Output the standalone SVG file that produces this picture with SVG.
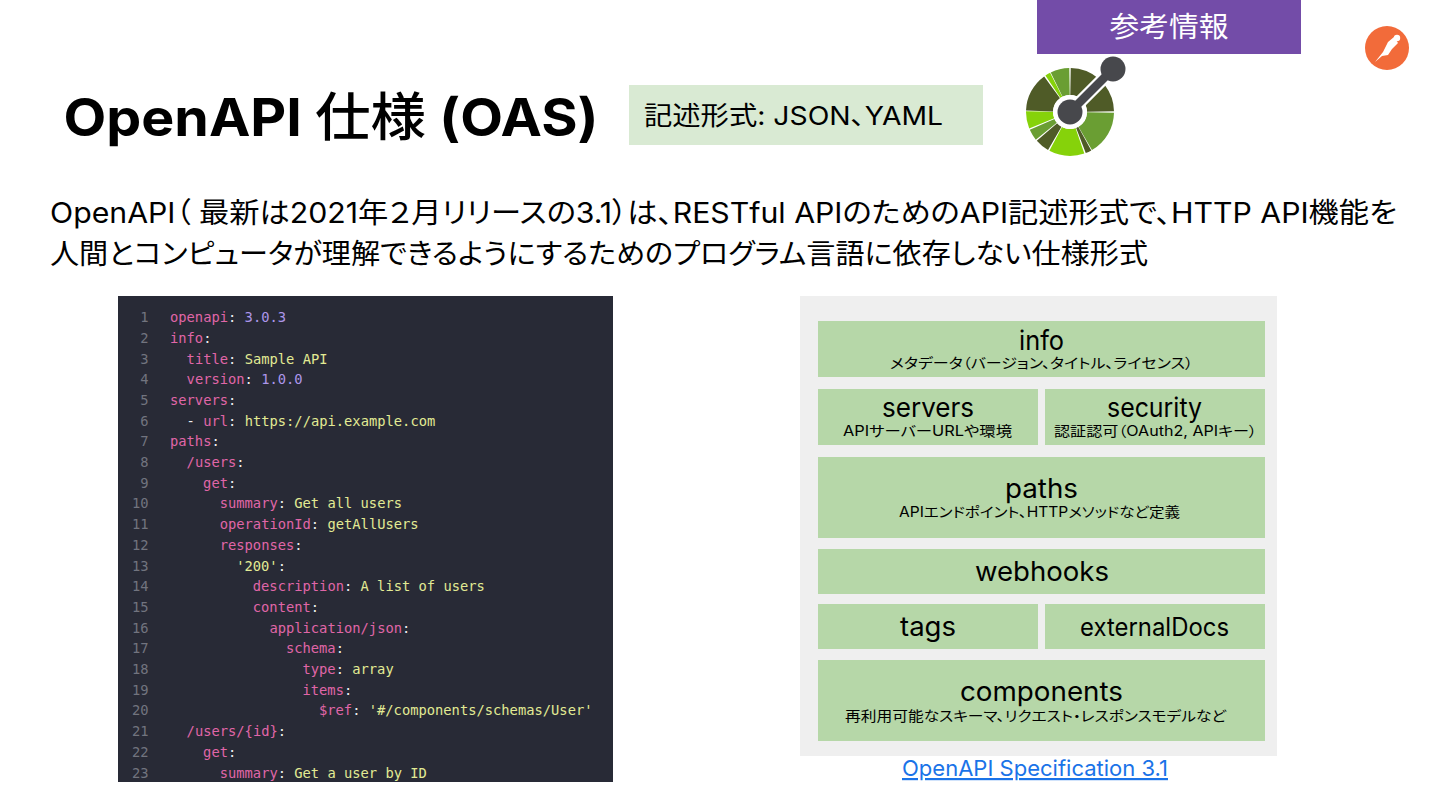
<svg xmlns="http://www.w3.org/2000/svg" width="1440" height="810" viewBox="0 0 1440 810">
<style>
text{font-family:"Inter","Noto Sans CJK JP","Liberation Sans",sans-serif;fill:#000;font-feature-settings:"palt"}
.m{text-anchor:middle}
.box{fill:#b6d7a8}
.h{font-size:27px}
.sub{font-size:14px}
.body{font-size:28.5px}
.code text{font-family:"DejaVu Sans Mono","Liberation Mono",monospace;font-size:13.78px;fill:#eeeef0;font-feature-settings:normal}
.code .ln{fill:#72747f;text-anchor:end}
.k{fill:#e066a8}.s{fill:#e2ea94}.n{fill:#ad96ea}
.seg{fill:none;stroke-width:27}
.dk{stroke:#4f5b27}.md{stroke:#6a9e33}.br{stroke:#86d20a}
</style>
<rect width="1440" height="810" fill="#fff"/>

<g id="badge">
<rect x="1037" y="0" width="264" height="54" fill="#734ca8"/>
<text x="1169" y="37" class="m" font-size="28" style="fill:#fff;font-feature-settings:normal" textLength="119" lengthAdjust="spacingAndGlyphs">参考情報</text>
</g>

<g id="postman-icon">
<circle cx="1387" cy="48" r="22" fill="#f26b3a"/>
<circle cx="1397" cy="38" r="3.2" fill="#fff"/>
<path d="M1375 62 L1383 52 L1388 42 L1394 37 L1398 43 L1392 49 L1388 55 L1382 56 Z" fill="#fff"/>
</g>

<g id="title"><text x="63.5" y="136" font-size="52" font-weight="700" textLength="535" lengthAdjust="spacingAndGlyphs">OpenAPI <tspan font-weight="500">仕様</tspan> (OAS)</text></g>

<g id="format">
<rect x="629" y="85" width="354" height="60" fill="#d9ead3"/>
<text x="644" y="125" font-size="26" textLength="299" lengthAdjust="spacingAndGlyphs">記述形式: JSON、YAML</text>
</g>

<g id="openapi-logo">
<g transform="rotate(-90 1070 112)">
<circle class="seg dk" cx="1070" cy="112" r="30.5" pathLength="360" stroke-dasharray="40 320" stroke-dashoffset="-1"/>
<circle class="seg dk" cx="1070" cy="112" r="30.5" pathLength="360" stroke-dasharray="36 324" stroke-dashoffset="-53"/>
<circle class="seg md" cx="1070" cy="112" r="30.5" pathLength="360" stroke-dasharray="59 301" stroke-dashoffset="-91"/>
<circle class="seg dk" cx="1070" cy="112" r="30.5" pathLength="360" stroke-dasharray="8 352" stroke-dashoffset="-151"/>
<circle class="seg br" cx="1070" cy="112" r="30.5" pathLength="360" stroke-dasharray="47 313" stroke-dashoffset="-161"/>
<circle class="seg dk" cx="1070" cy="112" r="30.5" pathLength="360" stroke-dasharray="19 341" stroke-dashoffset="-210"/>
<circle class="seg md" cx="1070" cy="112" r="30.5" pathLength="360" stroke-dasharray="15 345" stroke-dashoffset="-231"/>
<circle class="seg br" cx="1070" cy="112" r="30.5" pathLength="360" stroke-dasharray="23 337" stroke-dashoffset="-248"/>
<circle class="seg dk" cx="1070" cy="112" r="30.5" pathLength="360" stroke-dasharray="52 308" stroke-dashoffset="-272"/>
<circle class="seg br" cx="1070" cy="112" r="30.5" pathLength="360" stroke-dasharray="7 353" stroke-dashoffset="-326"/>
<circle class="seg md" cx="1070" cy="112" r="30.5" pathLength="360" stroke-dasharray="25 335" stroke-dashoffset="-334"/>
</g>
<line x1="1070" y1="112" x2="1113" y2="69" stroke="#fff" stroke-width="13"/>
<circle cx="1070" cy="112" r="17" fill="#fff"/>
<line x1="1070" y1="112" x2="1113" y2="69" stroke="#47484c" stroke-width="8.5"/>
<circle cx="1070" cy="112" r="12.5" fill="#47484c"/>
<circle cx="1113" cy="69" r="12.5" fill="#47484c"/>
</g>

<g id="description">
<text class="body" x="50" y="223" textLength="1347" lengthAdjust="spacingAndGlyphs">OpenAPI（ 最新は2021年２月リリースの3.1）は、RESTful APIのためのAPI記述形式で、HTTP API機能を</text>
<text class="body" x="50" y="264" textLength="1098" lengthAdjust="spacingAndGlyphs">人間とコンピュータが理解できるようにするためのプログラム言語に依存しない仕様形式</text>
</g>

<g id="code" class="code">
<rect x="118" y="296" width="495" height="486" fill="#282a36"/>
<text class="ln" x="148.5" y="322">1</text><text x="170" y="322"><tspan class="k">openapi</tspan>: <tspan class="n">3.0.3</tspan></text>
<text class="ln" x="148.5" y="343">2</text><text x="170" y="343"><tspan class="k">info</tspan>:</text>
<text class="ln" x="148.5" y="363.5">3</text><text x="186.6" y="363.5"><tspan class="k">title</tspan>: <tspan class="s">Sample API</tspan></text>
<text class="ln" x="148.5" y="384">4</text><text x="186.6" y="384"><tspan class="k">version</tspan>: <tspan class="n">1.0.0</tspan></text>
<text class="ln" x="148.5" y="405">5</text><text x="170" y="405"><tspan class="k">servers</tspan>:</text>
<text class="ln" x="148.5" y="425.5">6</text><text x="186.6" y="425.5">- <tspan class="k">url</tspan>: <tspan class="s">https://api.example.com</tspan></text>
<text class="ln" x="148.5" y="446">7</text><text x="170" y="446"><tspan class="k">paths</tspan>:</text>
<text class="ln" x="148.5" y="467">8</text><text x="186.6" y="467"><tspan class="k">/users</tspan>:</text>
<text class="ln" x="148.5" y="487.5">9</text><text x="203.1" y="487.5"><tspan class="k">get</tspan>:</text>
<text class="ln" x="148.5" y="508">10</text><text x="219.7" y="508"><tspan class="k">summary</tspan>: <tspan class="s">Get all users</tspan></text>
<text class="ln" x="148.5" y="529">11</text><text x="219.7" y="529"><tspan class="k">operationId</tspan>: <tspan class="s">getAllUsers</tspan></text>
<text class="ln" x="148.5" y="550">12</text><text x="219.7" y="550"><tspan class="k">responses</tspan>:</text>
<text class="ln" x="148.5" y="570.5">13</text><text x="236.2" y="570.5"><tspan class="s">'200'</tspan>:</text>
<text class="ln" x="148.5" y="591">14</text><text x="252.8" y="591"><tspan class="k">description</tspan>: <tspan class="s">A list of users</tspan></text>
<text class="ln" x="148.5" y="612">15</text><text x="252.8" y="612"><tspan class="k">content</tspan>:</text>
<text class="ln" x="148.5" y="632.5">16</text><text x="269.4" y="632.5"><tspan class="k">application/json</tspan>:</text>
<text class="ln" x="148.5" y="653">17</text><text x="285.9" y="653"><tspan class="k">schema</tspan>:</text>
<text class="ln" x="148.5" y="674">18</text><text x="302.5" y="674"><tspan class="k">type</tspan>: <tspan class="s">array</tspan></text>
<text class="ln" x="148.5" y="694.5">19</text><text x="302.5" y="694.5"><tspan class="k">items</tspan>:</text>
<text class="ln" x="148.5" y="715">20</text><text x="319" y="715"><tspan class="k">$ref</tspan>: <tspan class="s">'#/components/schemas/User'</tspan></text>
<text class="ln" x="148.5" y="736">21</text><text x="186.6" y="736"><tspan class="k">/users/{id}</tspan>:</text>
<text class="ln" x="148.5" y="757">22</text><text x="203.1" y="757"><tspan class="k">get</tspan>:</text>
<text class="ln" x="148.5" y="777.5">23</text><text x="219.7" y="777.5"><tspan class="k">summary</tspan>: <tspan class="s">Get a user by ID</tspan></text>
</g>

<g id="structure-panel"><rect x="800" y="296" width="477" height="460" fill="#efefef"/></g>

<g id="info">
<rect class="box" x="818" y="321" width="447" height="56"/>
<text class="h m" x="1041.5" y="350" textLength="45" lengthAdjust="spacingAndGlyphs">info</text>
<text class="sub" x="890" y="368" textLength="303" lengthAdjust="spacingAndGlyphs">メタデータ（バージョン、タイトル、ライセンス）</text>
</g>
<g id="servers">
<rect class="box" x="818" y="389" width="220" height="56"/>
<text class="h" x="882" y="417" textLength="92" lengthAdjust="spacingAndGlyphs">servers</text>
<text class="sub" x="843" y="436" textLength="169" lengthAdjust="spacingAndGlyphs">APIサーバーURLや環境</text>
</g>
<g id="security">
<rect class="box" x="1045" y="389" width="220" height="56"/>
<text class="h" x="1107" y="417" textLength="95" lengthAdjust="spacingAndGlyphs">security</text>
<text class="sub" x="1054" y="436" textLength="203" lengthAdjust="spacingAndGlyphs">認証認可（OAuth2, APIキー）</text>
</g>
<g id="paths">
<rect class="box" x="818" y="457" width="447" height="81"/>
<text class="h" x="1005" y="498" textLength="73" lengthAdjust="spacingAndGlyphs">paths</text>
<text class="sub" x="899" y="517" textLength="281" lengthAdjust="spacingAndGlyphs">APIエンドポイント、HTTPメソッドなど定義</text>
</g>
<g id="webhooks">
<rect class="box" x="818" y="549" width="447" height="45"/>
<text class="h" x="975" y="581" textLength="134" lengthAdjust="spacingAndGlyphs">webhooks</text>
</g>
<g id="tags">
<rect class="box" x="818" y="604" width="220" height="45"/>
<text class="h" x="900" y="636" textLength="56" lengthAdjust="spacingAndGlyphs">tags</text>
</g>
<g id="externalDocs">
<rect class="box" x="1045" y="604" width="220" height="45"/>
<text x="1080" y="636" font-size="25" textLength="149" lengthAdjust="spacingAndGlyphs">externalDocs</text>
</g>
<g id="components">
<rect class="box" x="818" y="660" width="447" height="81"/>
<text class="h" x="960" y="701" textLength="163" lengthAdjust="spacingAndGlyphs">components</text>
<text class="sub" x="845" y="721" textLength="381" lengthAdjust="spacingAndGlyphs">再利用可能なスキーマ、リクエスト・レスポンスモデルなど</text>
</g>

<g id="link"><text x="902" y="776" font-size="22" style="fill:#1a73e8" text-decoration="underline" textLength="266" lengthAdjust="spacingAndGlyphs">OpenAPI Specification 3.1</text></g>
</svg>
